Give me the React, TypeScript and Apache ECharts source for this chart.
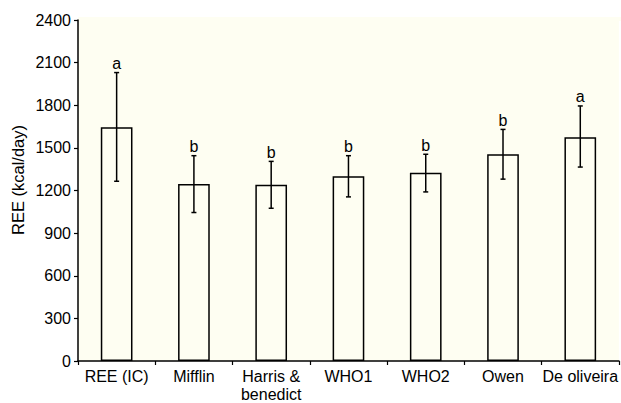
import React, { useEffect, useRef } from "react";
import * as echarts from "echarts";

const categories = ["REE (IC)", "Mifflin", "Harris &\nbenedict", "WHO1", "WHO2", "Owen", "De oliveira"];
const means = [1645, 1245, 1240, 1300, 1325, 1455, 1575];
const errLow = [1265, 1045, 1075, 1155, 1190, 1280, 1365];
const errHigh = [2030, 1445, 1405, 1445, 1455, 1630, 1795];
const letters = ["a", "b", "b", "b", "b", "b", "a"];
const yTicks = [0, 300, 600, 900, 1200, 1500, 1800, 2100, 2400];
const yName = "REE (kcal/day)";

const FONT = "'Liberation Sans', Arial, Helvetica, sans-serif";

export default function App() {
  const ref = useRef<HTMLDivElement>(null);
  useEffect(() => {
    document.body.style.margin = "0";
    if (!ref.current) return;
    const chart = echarts.init(ref.current, undefined, { renderer: "svg" });
    const errData = categories.map((_, i) => [i, errLow[i], errHigh[i]]);
    chart.setOption({
      animation: false,
      backgroundColor: "#ffffff",
      grid: {
        left: 78,
        right: 1,
        top: 20,
        bottom: 40,
        show: true,
        backgroundColor: "#fefef2",
        borderWidth: 0,
      },
      graphic: [
        { type: "rect", shape: { x: 78, y: 17, width: 543, height: 4 }, style: { fill: "#fefef2" }, z: -1 },
        {
          type: "text",
          x: 18,
          y: 180,
          rotation: Math.PI / 2,
          style: {
            text: yName,
            fill: "#000",
            fontSize: 16.5,
            fontFamily: FONT,
            align: "center",
            verticalAlign: "middle",
          },
        },
      ],
      xAxis: {
        type: "category",
        data: categories,
        axisLine: { lineStyle: { color: "#000", width: 1.5 } },
        axisTick: { show: true, length: 4, lineStyle: { color: "#000", width: 1.2 } },
        axisLabel: { color: "#000", fontSize: 16, fontFamily: FONT, margin: 6, lineHeight: 18, interval: 0 },
        splitLine: { show: false },
      },
      yAxis: {
        type: "value",
        min: yTicks[0],
        max: yTicks[yTicks.length - 1],
        interval: 300,
        axisLine: { show: true, lineStyle: { color: "#000", width: 1.5 } },
        axisTick: { show: true, length: 4, lineStyle: { color: "#000", width: 1.2 } },
        axisLabel: { color: "#000", fontSize: 16, fontFamily: FONT, margin: 7, formatter: (v: number) => String(v) },
        splitLine: { show: false },
      },
      series: [
        {
          type: "bar",
          data: means,
          barWidth: "41%",
          itemStyle: { color: "rgba(0,0,0,0)", borderColor: "#000", borderWidth: 1.5 },
          z: 2,
        },
        {
          type: "custom",
          data: errData,
          z: 3,
          renderItem: (params: any, api: any) => {
            const i = api.value(0);
            const lo = api.coord([i, api.value(1)]);
            const hi = api.coord([i, api.value(2)]);
            const cap = 2.5;
            const style = { stroke: "#000", lineWidth: 1.5 };
            return {
              type: "group",
              children: [
                { type: "line", shape: { x1: hi[0], y1: hi[1], x2: lo[0], y2: lo[1] }, style },
                { type: "line", shape: { x1: hi[0] - cap, y1: hi[1], x2: hi[0] + cap, y2: hi[1] }, style },
                { type: "line", shape: { x1: lo[0] - cap, y1: lo[1], x2: lo[0] + cap, y2: lo[1] }, style },
                {
                  type: "text",
                  x: hi[0],
                  y: hi[1] - 1,
                  style: {
                    text: letters[i],
                    fill: "#000",
                    fontSize: 16,
                    fontFamily: FONT,
                    align: "center",
                    verticalAlign: "bottom",
                  },
                },
              ],
            };
          },
        },
      ],
    });
    return () => chart.dispose();
  }, []);
  return <div ref={ref} style={{ width: 621, height: 403 }} />;
}
